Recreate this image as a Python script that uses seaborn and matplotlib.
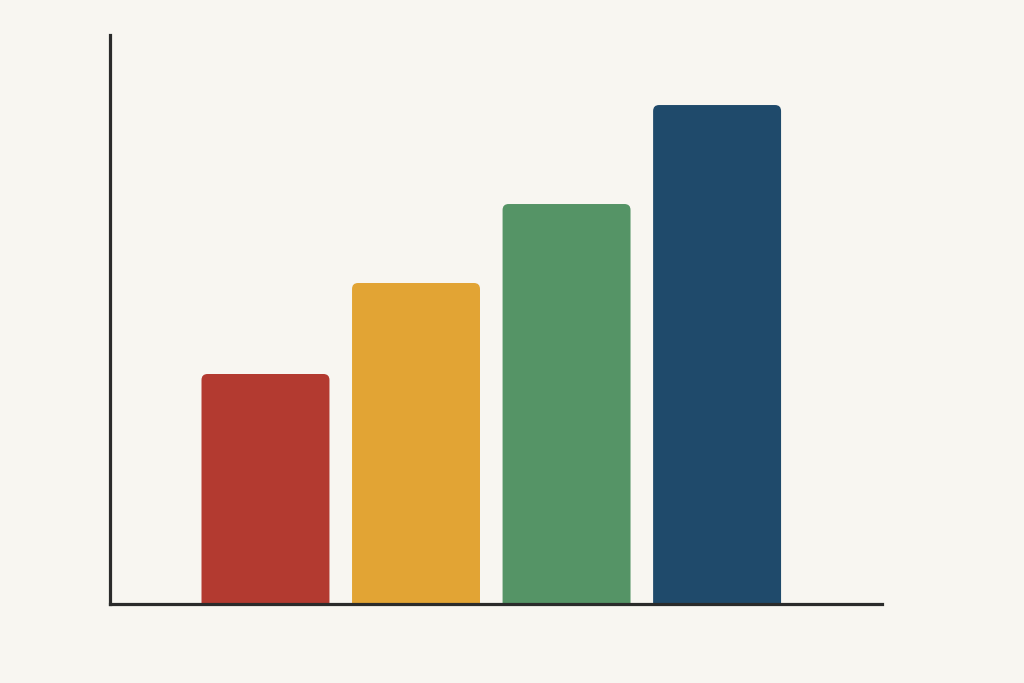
import matplotlib
matplotlib.use("Agg")
import matplotlib.pyplot as plt
import pandas as pd
import seaborn as sns
from matplotlib.patches import FancyBboxPatch

categories = ["A", "B", "C", "D"]
values = [230, 321, 400, 499]
colors = ["#B33A30", "#E2A434", "#559466", "#1F4A6B"]

bg = "#F8F6F1"
df = pd.DataFrame({"category": categories, "value": values})

sns.set_style("white")
fig = plt.figure(figsize=(10.24, 6.83), dpi=100, facecolor=bg)
ax = fig.add_axes([0.1074, 0.1157, 0.754, 0.833])
ax.set_facecolor(bg)

sns.barplot(df, x="category", y="value", hue="category", palette=colors,
            width=0.85, legend=False, ax=ax, saturation=1)

ax.set_xlim(-1.033, 4.096)
ax.set_ylim(0, 569)

# swap plain rectangles for slightly rounded ones
px_x = 150.5  # pixels per x unit
r = 6 / px_x
for patch in list(ax.patches):
    x0, w, h = patch.get_x(), patch.get_width(), patch.get_height()
    fc = patch.get_facecolor()
    patch.remove()
    ax.add_patch(FancyBboxPatch((x0, -10), w, h + 10,
                                boxstyle=f"round,pad=0,rounding_size={r}",
                                mutation_aspect=px_x, facecolor=fc,
                                edgecolor="none", clip_on=True))

for side in ["top", "right"]:
    ax.spines[side].set_visible(False)
for side in ["left", "bottom"]:
    ax.spines[side].set_color("#2B2B2B")
    ax.spines[side].set_linewidth(2.3)
    ax.spines[side].set_zorder(5)
ax.set_xticks([])
ax.set_yticks([])
ax.set_xlabel("")
ax.set_ylabel("")

fig.savefig("out.png", dpi=100, facecolor=bg)
